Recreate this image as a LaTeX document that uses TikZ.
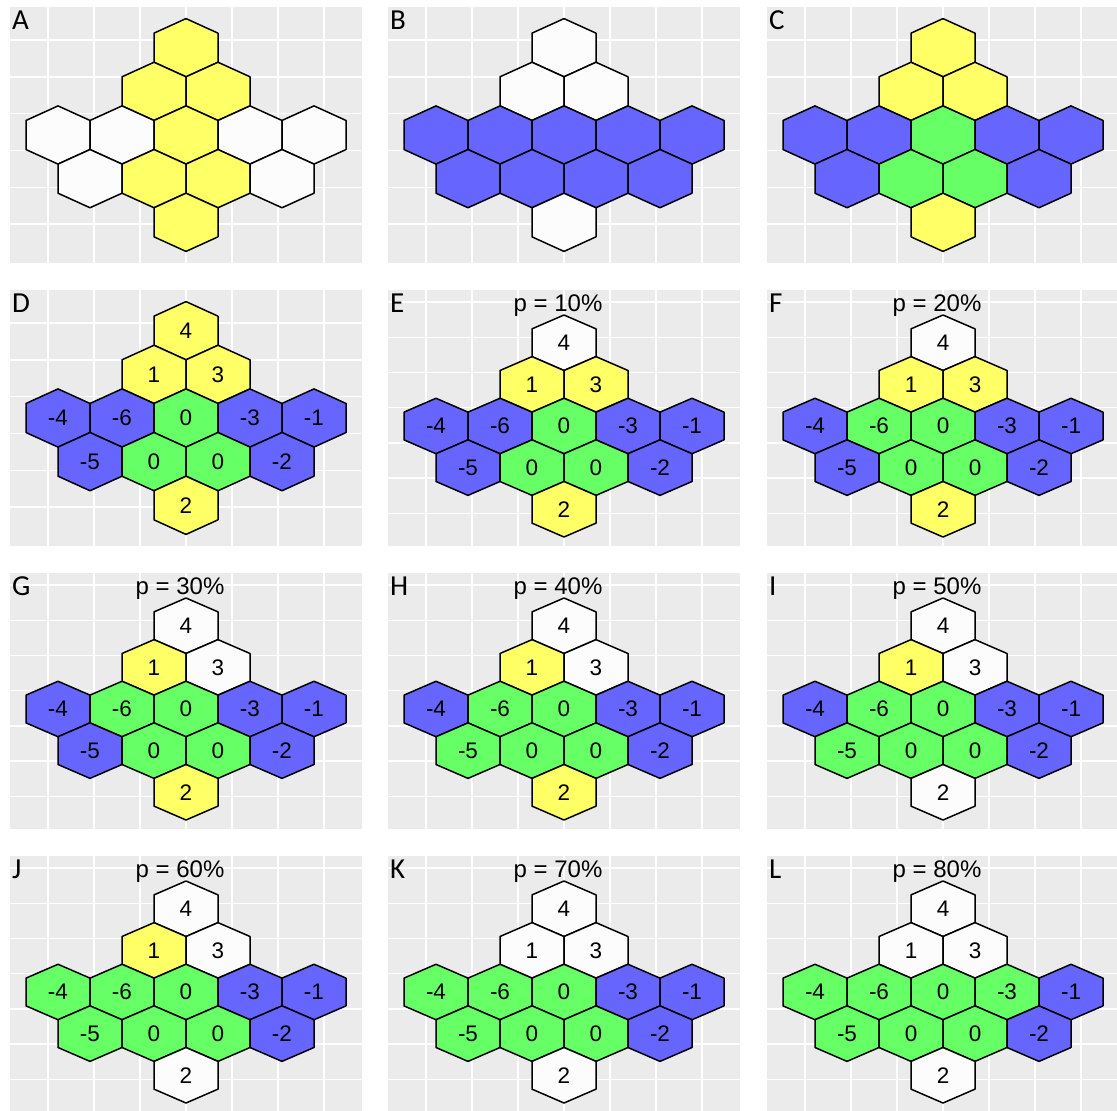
\documentclass[tikz,border=0pt]{standalone}
\usepackage{fontspec}
\setmainfont{Liberation Sans}
\newfontfamily\tagfont{Carlito}
\usepackage{tikz}
\usepackage{xcolor}

\definecolor{panelgray}{HTML}{EBEBEB}
\definecolor{hy}{HTML}{FFFF66}
\definecolor{hb}{HTML}{6666FF}
\definecolor{hg}{HTML}{66FF66}
\definecolor{hw}{HTML}{FCFCFC}

% cell layout: column offset, row offset, value
\def\cellx{{0,-0.5,0.5,-2,-1,0,1,2,-1.5,-0.5,0.5,1.5,0}}
\def\celly{{-2,-1,-1,0,0,0,0,0,1,1,1,1,2}}
\def\cellv{{4,1,3,-4,-6,0,-3,-1,-5,0,0,-2,2}}

% #1 tag, #2/#3 top left corner, #4 percent (empty: no title), #5 colours, #6 numbers on/off
\newcommand{\hexpanel}[6]{%
\begin{scope}[shift={(#2,#3)}]
  \fill[panelgray] (0,0) rectangle (352,256);
  \ifx&#4&
    \def\cy{128}\def\hr{29.1}\def\gy{33}\def\gs{36.8}\def\gn{5}%
  \else
    \def\cy{136}\def\hr{27.75}\def\gy{12}\def\gs{35.2}\def\gn{6}%
  \fi
  % grid
  \foreach \gx in {38,84,...,314} \draw[gridline] (\gx,0) -- (\gx,256);
  \foreach \k in {0,...,\gn} \draw[gridline] (0,\gy+\k*\gs) -- (352,\gy+\k*\gs);
  % cells
  \foreach \c [count=\i] in {#5} {
    \pgfmathsetmacro\px{176+64*\cellx[\i-1]}
    \pgfmathsetmacro\py{\cy+1.5*\hr*\celly[\i-1]}
    \pgfmathtruncatemacro\val{\cellv[\i-1]}
    \path[hexcell, fill=\c] (\px,\py-\hr) -- (\px+32,\py-\hr/2) -- (\px+32,\py+\hr/2)
      -- (\px,\py+\hr) -- (\px-32,\py+\hr/2) -- (\px-32,\py-\hr/2) -- cycle;
    \ifnum#6=1 \node[num] (#1-c\i) at (\px,\py) {\val};\fi
  }
  \ifx&#4&\else
    \node[ttl] (ttl-#1) at (170,21) {p = #4\%};
  \fi
  \node[tag] (tag-#1) at (2,22) {#1};
\end{scope}}

\begin{document}
\begin{tikzpicture}[
    x=1pt, y=-1pt,
    gridline/.style={draw=white, line width=1.4pt},
    hexcell/.style={draw=black, line width=1.5pt, line join=round},
    num/.style={font=\fontsize{22.5}{22.5}\selectfont, inner sep=0pt},
    ttl/.style={anchor=base, font=\fontsize{24}{24}\selectfont, inner sep=0pt},
    tag/.style={anchor=base west, font=\tagfont\fontsize{29}{29}\selectfont, inner sep=0pt},
]
\useasboundingbox (0,0) rectangle (1117,1111);
\clip (0,0) rectangle (1117,1111);
\fill[white] (0,0) rectangle (1117,1111);

% first row: regions
\hexpanel{A}{10}{7}{}{hy,hy,hy,hw,hw,hy,hw,hw,hw,hy,hy,hw,hy}{0}
\hexpanel{B}{388}{7}{}{hw,hw,hw,hb,hb,hb,hb,hb,hb,hb,hb,hb,hw}{0}
\hexpanel{C}{767}{7}{}{hy,hy,hy,hb,hb,hg,hb,hb,hb,hg,hg,hb,hy}{0}

% second row
\hexpanel{D}{10}{290}{}{hy,hy,hy,hb,hb,hg,hb,hb,hb,hg,hg,hb,hy}{1}
\hexpanel{E}{388}{290}{10}{hw,hy,hy,hb,hb,hg,hb,hb,hb,hg,hg,hb,hy}{1}
\hexpanel{F}{767}{290}{20}{hw,hy,hy,hb,hg,hg,hb,hb,hb,hg,hg,hb,hy}{1}

% third row
\hexpanel{G}{10}{573}{30}{hw,hy,hw,hb,hg,hg,hb,hb,hb,hg,hg,hb,hy}{1}
\hexpanel{H}{388}{573}{40}{hw,hy,hw,hb,hg,hg,hb,hb,hg,hg,hg,hb,hy}{1}
\hexpanel{I}{767}{573}{50}{hw,hy,hw,hb,hg,hg,hb,hb,hg,hg,hg,hb,hw}{1}

% fourth row
\hexpanel{J}{10}{856}{60}{hw,hy,hw,hg,hg,hg,hb,hb,hg,hg,hg,hb,hw}{1}
\hexpanel{K}{388}{856}{70}{hw,hw,hw,hg,hg,hg,hb,hb,hg,hg,hg,hb,hw}{1}
\hexpanel{L}{767}{856}{80}{hw,hw,hw,hg,hg,hg,hg,hb,hg,hg,hg,hb,hw}{1}
\end{tikzpicture}
\end{document}
